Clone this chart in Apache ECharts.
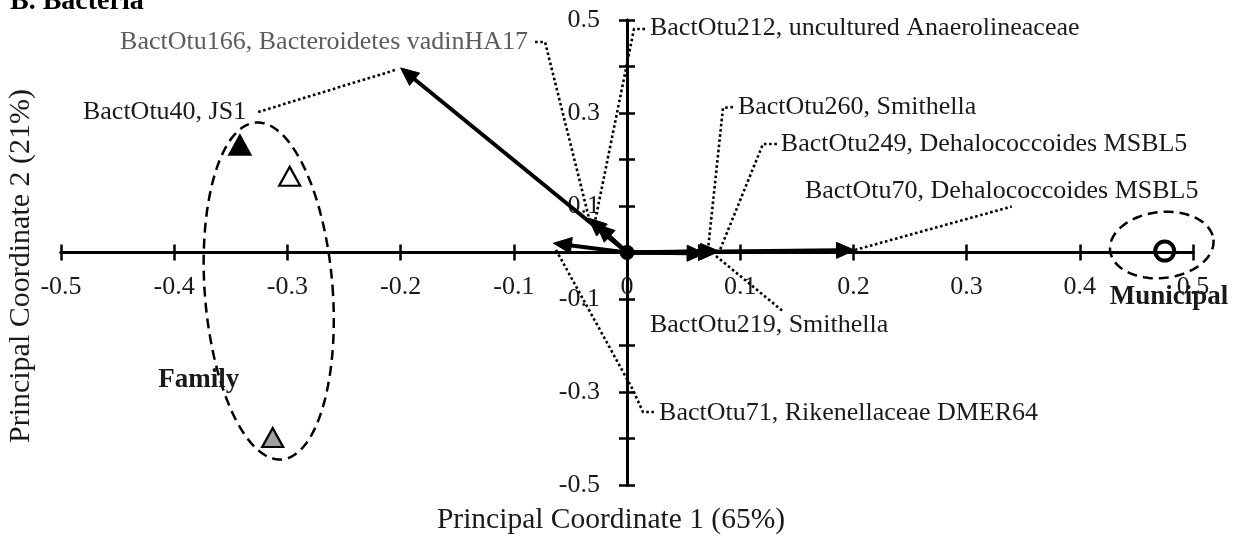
<!DOCTYPE html>
<html>
<head>
<meta charset="utf-8">
<script src="https://cdn.jsdelivr.net/npm/echarts@6/dist/echarts.min.js"></script>
<style>
  html, body { margin: 0; padding: 0; background: #ffffff; }
  #chart { width: 1249px; height: 537px; }
</style>
</head>
<body>
<div id="chart"></div>
<script>
// ---------------- DATA ----------------
const xTickLabels = ['-0.5', '-0.4', '-0.3', '-0.2', '-0.1', '0', '0.1', '0.2', '0.3', '0.4', '0.5'];
const yTickLabels = ['-0.5', '-0.3', '-0.1', '0.1', '0.3', '0.5'];

// Sample scores (PCo1, PCo2)
const familyPCo1 = [-0.342, -0.298, -0.313];
const familyPCo2 = [0.231, 0.164, -0.398];
const municipalPCo1 = [0.475];
const municipalPCo2 = [0.003];

// OTU vectors (arrow tips)
const otuNames = [
  'BactOtu40, JS1',
  'BactOtu166, Bacteroidetes vadinHA17',
  'BactOtu212, uncultured Anaerolineaceae',
  'BactOtu71, Rikenellaceae DMER64',
  'BactOtu260, Smithella',
  'BactOtu249, Dehalococcoides MSBL5',
  'BactOtu219, Smithella',
  'BactOtu70, Dehalococcoides MSBL5'
];
const otuPCo1 = [-0.200, -0.034, -0.027, -0.065, 0.069, 0.081, 0.079, 0.201];
const otuPCo2 = [0.397, 0.074, 0.061, 0.020, -0.002, 0.003, 0.000, 0.005];

// Group names
const groupNames = ['Family', 'Municipal'];

// ---------------- LAYOUT / STYLE (not data) ----------------
const FONT = '"Liberation Serif", "Times New Roman", serif';
const TEXT_COLOR = '#1a1a1a';

// group ellipses: centre, half-axes (axis units), tilt in degrees
const groupEllipses = [
  { cx: -0.3165, cy: -0.0828, rx: 0.0565, ry: 0.3634, tilt: -4.4 },
  { cx: 0.4724, cy: 0.0161, rx: 0.0459, ry: 0.071, tilt: -6 }
];
const groupLabelPos = [
  { x: -0.4141, y: -0.274 },
  { x: 0.4265, y: -0.0957 }
];
const familyStyles = [
  { color: '#000000' },
  { color: '#ffffff' },
  { color: '#a0a0a0' }
];

// label anchors and leader paths for each OTU (axis units)
const otuLabelLayout = [
  { x: -0.3364, y: 0.3022, align: 'right', color: TEXT_COLOR,
    path: [[-0.3258, 0.3022], [-0.2040, 0.3930]] },
  { x: -0.0874, y: 0.4527, align: 'right', color: '#5c5c5c',
    path: [[-0.0812, 0.4527], [-0.0724, 0.4527], [-0.0336, 0.0742]] },
  { x: 0.0203, y: 0.4828, align: 'left', color: TEXT_COLOR,
    path: [[0.0159, 0.4806], [0.0062, 0.4806], [-0.0280, 0.0700]] },
  { x: 0.0283, y: -0.3452, align: 'left', color: TEXT_COLOR,
    path: [[-0.0627, 0.0054], [0.0053, -0.2957], [0.0141, -0.3430], [0.0238, -0.3430]] },
  { x: 0.0980, y: 0.3129, align: 'left', color: TEXT_COLOR,
    path: [[0.0936, 0.3129], [0.0848, 0.3108], [0.0715, 0.0054]] },
  { x: 0.1359, y: 0.2333, align: 'left', color: TEXT_COLOR,
    path: [[0.1324, 0.2333], [0.1201, 0.2333], [0.0821, 0.0054]] },
  { x: 0.0203, y: -0.1559, align: 'left', color: TEXT_COLOR,
    path: [[0.0786, -0.0075], [0.1369, -0.1247]] },
  { x: 0.1572, y: 0.1323, align: 'left', color: TEXT_COLOR,
    path: [[0.2013, 0.0054], [0.3399, 0.0989]] }
];

const axisLineStyle = { color: '#000', width: 3 };
const axisTickStyle = { color: '#000', width: 2.5 };

function makeAxis(pos) {
  return {
    type: 'value', min: -0.5, max: 0.5, interval: 0.1, position: pos,
    axisLine: { show: true, onZero: true, lineStyle: axisLineStyle },
    axisTick: { show: true, length: 8, lineStyle: axisTickStyle },
    axisLabel: { show: false },
    splitLine: { show: false }
  };
}

const chart = echarts.init(document.getElementById('chart'), null, { renderer: 'canvas' });

const option = {
  animation: false,
  backgroundColor: '#ffffff',
  grid: { left: 61, right: 56, top: 20, bottom: 52, containLabel: false, outerBoundsMode: 'none' },
  xAxis: [makeAxis('bottom'), makeAxis('top')],
  yAxis: [makeAxis('left'), makeAxis('right')],
  graphic: [
    { type: 'text', left: 10, top: -12, z: 10,
      style: { text: 'B. Bacteria', font: 'bold 28px ' + FONT, fill: '#000' } },
    { type: 'text', x: 611, y: 520, z: 10,
      style: { text: 'Principal Coordinate 1 (65%)', font: '29.5px ' + FONT, fill: TEXT_COLOR,
               align: 'center', verticalAlign: 'middle' } },
    { type: 'text', x: 21, y: 266, rotation: Math.PI / 2, z: 10,
      style: { text: 'Principal Coordinate 2 (21%)', font: '30px ' + FONT, fill: TEXT_COLOR,
               align: 'center', verticalAlign: 'middle' } }
  ],
  series: [
    // x tick labels (placed below the axis at y = 0)
    {
      type: 'custom', coordinateSystem: 'cartesian2d', clip: false, silent: true, z: 1,
      encode: { x: 0, y: 1 },
      data: xTickLabels.map(s => [parseFloat(s), 0]),
      renderItem: (params, api) => {
        const a = api.coord([api.value(0), api.value(1)]);
        return { type: 'text',
                 style: { text: xTickLabels[params.dataIndex], x: a[0], y: a[1] + 35, fill: TEXT_COLOR,
                          font: '26px ' + FONT, align: 'center', verticalAlign: 'middle' } };
      }
    },
    // y tick labels (left of the axis at x = 0)
    {
      type: 'custom', coordinateSystem: 'cartesian2d', clip: false, silent: true, z: 1,
      encode: { x: 0, y: 1 },
      data: yTickLabels.map(s => [0, parseFloat(s)]),
      renderItem: (params, api) => {
        const a = api.coord([api.value(0), api.value(1)]);
        return { type: 'text',
                 style: { text: yTickLabels[params.dataIndex], x: a[0] - 27, y: a[1], fill: TEXT_COLOR,
                          font: '26px ' + FONT, align: 'right', verticalAlign: 'middle' } };
      }
    },
    // group ellipses
    {
      type: 'custom', coordinateSystem: 'cartesian2d', clip: false, silent: true, z: 3,
      encode: { x: 0, y: 1 },
      data: groupEllipses.map(e => [e.cx, e.cy, e.rx, e.ry, e.tilt]),
      renderItem: (params, api) => {
        const c = api.coord([api.value(0), api.value(1)]);
        const s = api.size([api.value(2), api.value(3)]);
        const rx = Math.abs(s[0]), ry = Math.abs(s[1]);
        const phi = api.value(4) * Math.PI / 180;
        const pts = [];
        for (let i = 0; i <= 120; i++) {
          const t = i / 120 * 2 * Math.PI;
          const px = rx * Math.cos(t), py = ry * Math.sin(t);
          pts.push([c[0] + px * Math.cos(phi) - py * Math.sin(phi),
                    c[1] + px * Math.sin(phi) + py * Math.cos(phi)]);
        }
        return { type: 'polygon', shape: { points: pts },
                 style: { fill: 'none', stroke: '#000', lineWidth: 2.5, lineDash: [10, 6] } };
      }
    },
    // leader lines and OTU labels
    {
      type: 'custom', coordinateSystem: 'cartesian2d', clip: false, silent: true, z: 4,
      encode: { x: 0, y: 1 },
      data: otuNames.map((n, i) => [otuLabelLayout[i].x, otuLabelLayout[i].y, i]),
      renderItem: (params, api) => {
        const i = params.dataIndex;
        const L = otuLabelLayout[i];
        const pts = L.path.map(p => api.coord(p));
        const anchor = api.coord([L.x, L.y]);
        return {
          type: 'group',
          children: [
            { type: 'polyline', shape: { points: pts },
              style: { fill: 'none', stroke: '#000', lineWidth: 2.6, lineDash: [2.6, 2.6] } },
            { type: 'text',
              style: { text: otuNames[i], x: anchor[0], y: anchor[1], fill: L.color,
                       font: '26px ' + FONT, align: L.align, verticalAlign: 'middle' } }
          ]
        };
      }
    },
    // OTU arrows
    {
      type: 'custom', coordinateSystem: 'cartesian2d', clip: false, silent: true, z: 5,
      encode: { x: 0, y: 1 },
      data: otuPCo1.map((v, i) => [v, otuPCo2[i]]),
      renderItem: (params, api) => {
        const o = api.coord([0, 0]);
        const p = api.coord([api.value(0), api.value(1)]);
        const dx = p[0] - o[0], dy = p[1] - o[1];
        const len = Math.sqrt(dx * dx + dy * dy) || 1;
        const ux = dx / len, uy = dy / len;
        const hl = 18, hw = 8;
        const bx = p[0] - ux * hl, by = p[1] - uy * hl;
        return {
          type: 'group',
          children: [
            { type: 'line', shape: { x1: o[0], y1: o[1], x2: bx + ux * 2, y2: by + uy * 2 },
              style: { stroke: '#000', lineWidth: 4 } },
            { type: 'polygon',
              shape: { points: [[p[0], p[1]], [bx - uy * hw, by + ux * hw], [bx + uy * hw, by - ux * hw]] },
              style: { fill: '#000', stroke: '#000', lineWidth: 1 } }
          ]
        };
      }
    },
    // family samples
    {
      type: 'scatter', z: 6, symbol: 'triangle', symbolSize: [21, 19],
      data: familyPCo1.map((v, i) => ({
        value: [v, familyPCo2[i]],
        itemStyle: { color: familyStyles[i].color, borderColor: '#000', borderWidth: 2.2, opacity: 1 }
      }))
    },
    // municipal sample
    {
      type: 'scatter', z: 6, symbol: 'circle', symbolSize: 19,
      data: municipalPCo1.map((v, i) => [v, municipalPCo2[i]]),
      itemStyle: { color: 'rgba(255,255,255,0)', borderColor: '#000', borderWidth: 4, opacity: 1 }
    },
    // origin
    {
      type: 'scatter', z: 7, symbol: 'circle', symbolSize: 15,
      data: [[0, 0]], itemStyle: { color: '#000', opacity: 1 }
    },
    // group labels
    {
      type: 'custom', coordinateSystem: 'cartesian2d', clip: false, silent: true, z: 8,
      encode: { x: 0, y: 1 },
      data: groupNames.map((n, i) => [groupLabelPos[i].x, groupLabelPos[i].y]),
      renderItem: (params, api) => {
        const a = api.coord([api.value(0), api.value(1)]);
        return { type: 'text',
                 style: { text: groupNames[params.dataIndex], x: a[0], y: a[1], fill: '#1a1a1a',
                          font: 'bold 27px ' + FONT, align: 'left', verticalAlign: 'middle' } };
      }
    }
  ]
};
chart.setOption(option);
</script>
</body>
</html>
